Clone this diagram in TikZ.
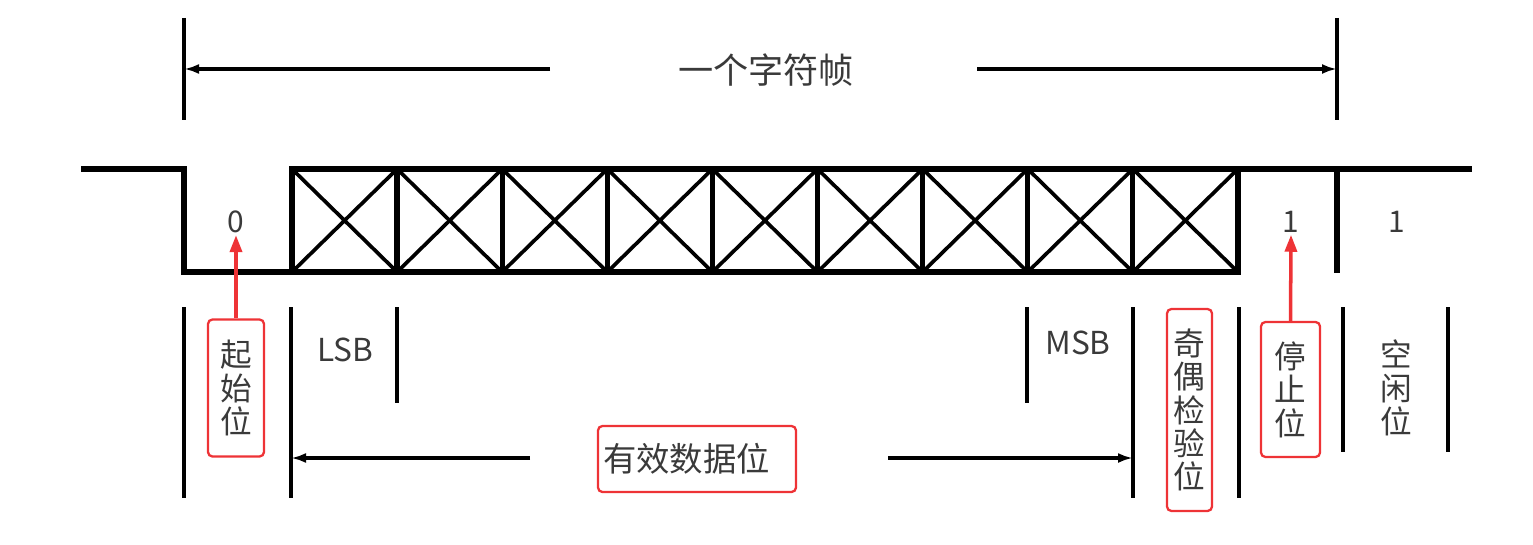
\documentclass[tikz,border=0pt]{standalone}
\usepackage{fontspec}
\newfontfamily\cjk{Noto Sans CJK SC}
\usetikzlibrary{positioning,arrows.meta}

\definecolor{redc}{HTML}{EE3336}
\definecolor{txt}{HTML}{3A3A3A}

\begin{document}
\begin{tikzpicture}[x=0.02cm, y=-0.02cm,
	wave/.style={line width=3pt},
	cross/.style={line width=2.1pt},
	tick/.style={line width=2.8pt},
	dim/.style={line width=2pt, -{Latex[length=0.3cm, width=0.2cm]}},
	pin/.style={line width=2pt, redc, -{Triangle[length=0.34cm, width=0.24cm]}},
	bit/.style={text=txt, font=\cjk\fontsize{17}{20}\selectfont, inner sep=1pt},
	tag/.style={text=txt, font=\cjk\fontsize{18}{19}\selectfont, align=center, inner sep=0pt},
	redbox/.style={draw=redc, line width=1.3pt, rounded corners=2.5pt}]
	\useasboundingbox (0,0) rectangle (1533,544);

	% frame length on top
	\draw[tick] (184,18) -- (184,120);
	\draw[tick] (1337,18) -- (1337,120);
	\coordinate (frameL) at (184,69);
	\coordinate (frameR) at (1337,69);
	\coordinate (frameLt) at (550,69);
	\coordinate (frameRt) at (977,69);
	\node[text=txt, font=\cjk\fontsize{20}{22}\selectfont] (frame) at (766,70) {一个字符帧};
	\draw[dim] (frameLt) -- (frameL);
	\draw[dim] (frameRt) -- (frameR);

	% waveform
	\draw[wave] (81,169) -- (184,169) -- (184,272) -- (292,272);
	\foreach \i in {0,...,8} {
		\pgfmathsetmacro\xa{292+105.1*\i}
		\pgfmathsetmacro\xb{\xa+105.1}
		\draw[cross] (\xa,169) -- (\xb,272) (\xa,272) -- (\xb,169);
		\draw[wave] (\xa,169) -- (\xa,272);
	}
	\draw[wave] (292,169) rectangle (1238,272);
	\draw[wave] (1238,169) -- (1472,169);
	\draw[wave] (1337,169) -- (1337,273);

	\node[bit] (zero) at (236,222) {0};
	\node[bit] (stopOne) at (1291,222) {1};
	\node[bit] (idleOne) at (1397,222) {1};

	% field markers below
	\foreach \x/\yb in {184/498, 291/498, 397/403, 1027/403, 1133/498, 1239/498, 1343/452, 1448/452}
		\draw[tick] (\x,307) -- (\x,\yb);

	\node[bit, font=\cjk\fontsize{18}{20}\selectfont] (lsb) at (345,350) {LSB};
	\node[bit, font=\cjk\fontsize{18}{20}\selectfont] (msb) at (1078,343) {MSB};

	\node[tag, redbox, minimum width=1.12cm, minimum height=2.74cm] (startTag) at (236,388) {起\\始\\位};
	\node[tag, redbox, minimum width=0.9cm, minimum height=4.04cm] (parityTag) at (1189.5,410) {奇\\偶\\检\\验\\位};
	\node[tag, redbox, minimum width=1.18cm, minimum height=2.7cm] (stopTag) at (1290.5,389.5) {停\\止\\位};
	\node[tag] (idleTag) at (1396,388) {空\\闲\\位};

	\node[redbox, text=txt, font=\cjk\fontsize{19}{21}\selectfont, text width=3.76cm, align=left,
		inner xsep=0.1cm, minimum height=1.32cm] (data) at (697,459) {有效数据位};
	\coordinate (dataL) at (291,458);
	\coordinate (dataR) at (1133,458);
	\coordinate (dataLt) at (530,458);
	\coordinate (dataRt) at (888,458);
	\draw[dim] (dataLt) -- (dataL);
	\draw[dim] (dataRt) -- (dataR);

	% red pointers
	\draw[pin] (startTag.north) -- (zero.south);
	\draw[pin] (stopTag.north) -- (stopOne.south);
\end{tikzpicture}
\end{document}
